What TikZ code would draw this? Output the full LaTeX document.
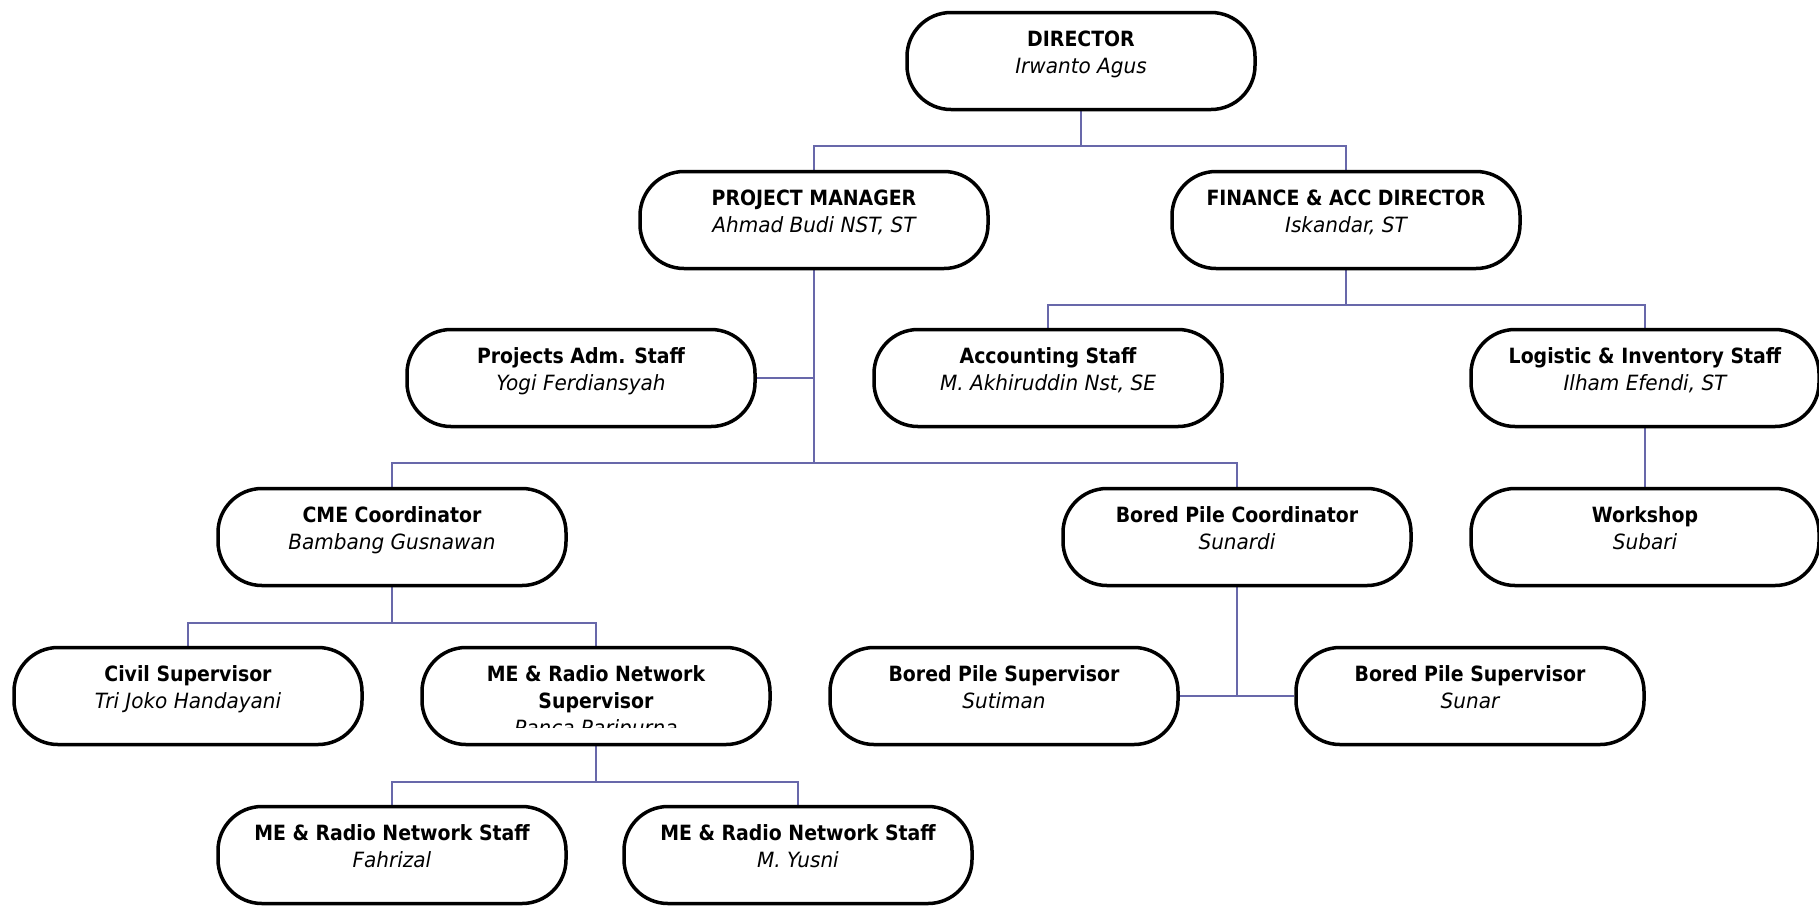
\documentclass[tikz,border=0pt]{standalone}
\usepackage{fontspec}
\setmainfont{DejaVu Sans Condensed}[ItalicFeatures={FakeStretch=1.06}]
\usetikzlibrary{backgrounds}
\definecolor{linkblue}{RGB}{104,104,170}
\tikzset{
  unit/.style={draw=black, line width=3.5pt, fill=white, rounded corners=44pt,
    minimum width=348pt, minimum height=97pt, inner sep=0pt},
  ttl/.style={anchor=base, inner sep=0pt, font=\fontsize{21}{27}\selectfont\bfseries},
  per/.style={anchor=base, inner sep=0pt, font=\fontsize{21}{27}\selectfont\itshape},
  link/.style={draw=linkblue, line width=2pt}
}
% one box of the chart: name, x, y, position, person
\newcommand\orgbox[5]{%
  \node[unit] (#1) at (#2,#3) {};
  \node[ttl] (#1-t) at ([yshift=-36pt]#1.north) {#4};
  \node[per] (#1-p) at ([yshift=-63pt]#1.north) {#5};
}
\begin{document}
\begin{tikzpicture}[x=1pt,y=-1pt]
\useasboundingbox (0,0) rectangle (1819,906);

\orgbox{dir}{1081}{61}{DIRECTOR}{Irwanto Agus}
\orgbox{pm}{814}{220}{PROJECT MANAGER}{Ahmad Budi NST, ST}
\orgbox{fin}{1346}{220}{FINANCE \& ACC DIRECTOR}{Iskandar, ST}
\orgbox{adm}{581}{378}{Projects Adm. Staff}{Yogi Ferdiansyah}
\orgbox{acc}{1048}{378}{Accounting Staff}{M. Akhiruddin Nst, SE}
\orgbox{log}{1645}{378}{Logistic \& Inventory Staff}{Ilham Efendi, ST}
\orgbox{cme}{392}{537}{CME Coordinator}{Bambang Gusnawan}
\orgbox{bpc}{1237}{537}{Bored Pile Coordinator}{Sunardi}
\orgbox{ws}{1645}{537}{Workshop}{Subari}
\orgbox{civ}{188}{696}{Civil Supervisor}{Tri Joko Handayani}
\orgbox{sut}{1004}{696}{Bored Pile Supervisor}{Sutiman}
\orgbox{sun}{1470}{696}{Bored Pile Supervisor}{Sunar}
\orgbox{fah}{392}{855}{ME \& Radio Network Staff}{Fahrizal}
\orgbox{yus}{798}{855}{ME \& Radio Network Staff}{M. Yusni}

% supervisor box with three lines, the last one cut by the box
\node[unit] (mes) at (596,696) {};
\begin{scope}
  \clip ([xshift=-170pt]mes.north) rectangle ([xshift=170pt,yshift=-82pt]mes.north);
  \node[ttl] (mes-t) at ([yshift=-36pt]mes.north) {ME \& Radio Network};
  \node[ttl] (mes-u) at ([yshift=-63pt]mes.north) {Supervisor};
  \node[per] (mes-p) at ([yshift=-90pt]mes.north) {Panca Paripurna};
\end{scope}

\begin{scope}[on background layer]
  \draw[link] (dir.south) -- ++(0,35) coordinate (b1);
  \draw[link] (pm.north) |- (b1) -| (fin.north);
  \draw[link] (fin.south) -- ++(0,35) coordinate (b2);
  \draw[link] (acc.north) |- (b2) -| (log.north);
  \draw[link] (pm.south) -- ++(0,193) coordinate (b3);
  \draw[link] (adm.east) -- (adm.east -| pm.south);
  \draw[link] (cme.north) |- (b3) -| (bpc.north);
  \draw[link] (log.south) -- (ws.north);
  \draw[link] (cme.south) -- ++(0,36) coordinate (b4);
  \draw[link] (civ.north) |- (b4) -| (mes.north);
  \draw[link] (mes.south) -- ++(0,36) coordinate (b5);
  \draw[link] (fah.north) |- (b5) -| (yus.north);
  \draw[link] (bpc.south) -- (bpc.south |- sut.east);
  \draw[link] (sut.east) -- (sun.west);
\end{scope}
\end{tikzpicture}
\end{document}
